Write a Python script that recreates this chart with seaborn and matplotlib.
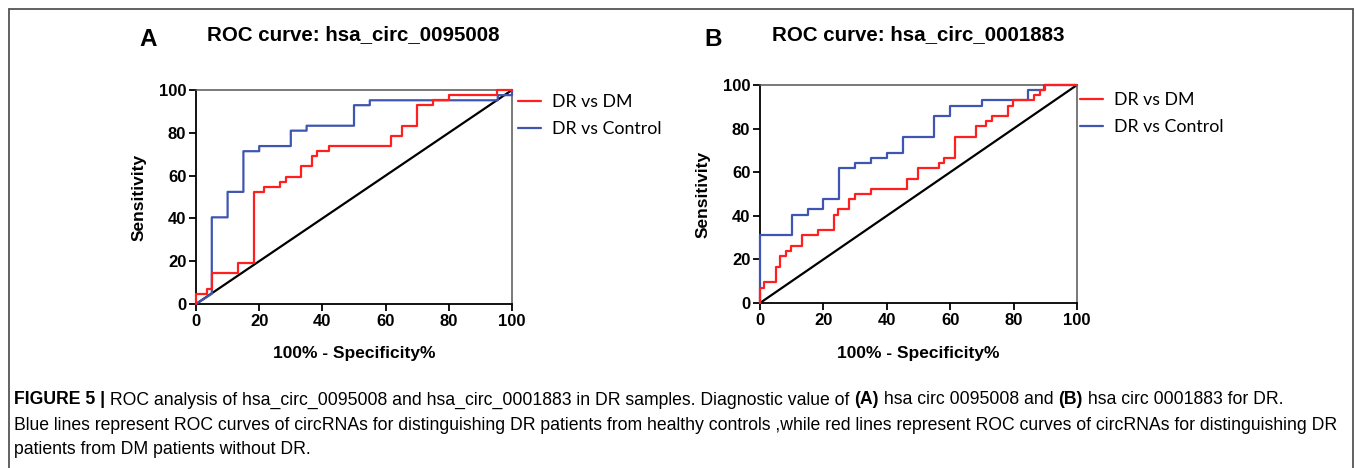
import matplotlib
matplotlib.use("Agg")
import matplotlib.pyplot as plt
from matplotlib.lines import Line2D
import seaborn as sns
import pandas as pd

# ---- data: ROC points (100% - Specificity%, Sensitivity%) ----
a_dm_fpr = [0, 0, 3.5, 3.5, 5.1, 5.1, 13.3, 13.3, 18.5, 18.5, 21.4, 21.4, 26.5, 26.5,
            28.4, 28.4, 33.2, 33.2, 36.7, 36.7, 38.3, 38.3, 42.0, 42.0, 61.7, 61.7,
            65.2, 65.2, 69.9, 69.9, 75.0, 75.0, 80.0, 80.0, 95.2, 95.2, 100]
a_dm_tpr = [0, 4.8, 4.8, 7.1, 7.1, 14.3, 14.3, 19.0, 19.0, 52.4, 52.4, 54.8, 54.8, 57.1,
            57.1, 59.5, 59.5, 64.3, 64.3, 69.0, 69.0, 71.4, 71.4, 73.8, 73.8, 78.6,
            78.6, 83.3, 83.3, 92.9, 92.9, 95.2, 95.2, 97.6, 97.6, 100, 100]
a_ctrl_fpr = [0, 5, 5, 10, 10, 15, 15, 20, 20, 30, 30, 35, 35, 50, 50, 55, 55, 95.5, 95.5, 100, 100]
a_ctrl_tpr = [0, 4.8, 40.5, 40.5, 52.4, 52.4, 71.4, 71.4, 73.8, 73.8, 81.0, 81.0, 83.3,
              83.3, 92.9, 92.9, 95.2, 95.2, 97.6, 97.6, 100]

b_dm_fpr = [0, 0, 1.4, 1.4, 5.1, 5.1, 6.3, 6.3, 8.2, 8.2, 9.7, 9.7, 13.2, 13.2, 18.4, 18.4,
            23.2, 23.2, 24.7, 24.7, 28.2, 28.2, 30.0, 30.0, 34.9, 34.9, 46.5, 46.5, 50.0,
            50.0, 56.6, 56.6, 58.2, 58.2, 61.6, 61.6, 68.2, 68.2, 71.4, 71.4, 73.2, 73.2,
            78.1, 78.1, 79.8, 79.8, 86.3, 86.3, 88.2, 88.2, 90.0, 90.0, 100]
b_dm_tpr = [0, 7.1, 7.1, 9.5, 9.5, 16.7, 16.7, 21.4, 21.4, 23.8, 23.8, 26.2, 26.2, 31.0,
            31.0, 33.3, 33.3, 40.5, 40.5, 42.9, 42.9, 47.6, 47.6, 50.0, 50.0, 52.4, 52.4,
            57.1, 57.1, 61.9, 61.9, 64.3, 64.3, 66.7, 66.7, 76.2, 76.2, 81.0, 81.0, 83.3,
            83.3, 85.7, 85.7, 90.5, 90.5, 92.9, 92.9, 95.2, 95.2, 97.6, 97.6, 100, 100]
b_ctrl_fpr = [0, 0, 10, 10, 15, 15, 20, 20, 25, 25, 30, 30, 35, 35, 40, 40, 45, 45, 55, 55,
              60, 60, 70, 70, 84.7, 84.7, 89.7, 89.7, 100]
b_ctrl_tpr = [0, 31.0, 31.0, 40.5, 40.5, 42.9, 42.9, 47.6, 47.6, 61.9, 61.9, 64.3, 64.3,
              66.7, 66.7, 69.0, 69.0, 76.2, 76.2, 85.7, 85.7, 90.5, 90.5, 92.9, 92.9,
              97.6, 97.6, 100, 100]

series_names = ["DR vs DM", "DR vs Control"]
panel_letters = ["A", "B"]
panel_titles = ["ROC curve: hsa_circ_0095008", "ROC curve: hsa_circ_0001883"]
ticks = [0, 20, 40, 60, 80, 100]
x_label = "100% - Specificity%"
y_label = "Sensitivity"

caption_bold = "FIGURE 5 |"
caption_l1 = [(" ROC analysis of hsa_circ_0095008 and hsa_circ_0001883 in DR samples. Diagnostic value of ", False),
              ("(A)", True), (" hsa circ 0095008 and ", False), ("(B)", True),
              (" hsa circ 0001883 for DR.", False)]
caption_l2 = "Blue lines represent ROC curves of circRNAs for distinguishing DR patients from healthy controls ,while red lines represent ROC curves of circRNAs for distinguishing DR"
caption_l3 = "patients from DM patients without DR."

# ---- styling ----
sns.set_theme(style="ticks")
plt.rcParams["font.family"] = ["Liberation Sans", "DejaVu Sans"]
plt.rcParams["text.color"] = "black"
plt.rcParams["axes.labelcolor"] = "black"
plt.rcParams["xtick.color"] = "black"
plt.rcParams["ytick.color"] = "black"

W, H = 1355, 468
fig = plt.figure(figsize=(W / 100, H / 100), dpi=100)

palette = {"DR vs DM": "#FF1F1F", "DR vs Control": "#3F56B0"}

def make_df(fpr_dm, tpr_dm, fpr_c, tpr_c):
    d1 = pd.DataFrame({"fpr": fpr_dm, "tpr": tpr_dm, "series": series_names[0]})
    d2 = pd.DataFrame({"fpr": fpr_c, "tpr": tpr_c, "series": series_names[1]})
    return pd.concat([d1, d2], ignore_index=True)

dfs = [make_df(a_dm_fpr, a_dm_tpr, a_ctrl_fpr, a_ctrl_tpr),
       make_df(b_dm_fpr, b_dm_tpr, b_ctrl_fpr, b_ctrl_tpr)]

# axes positions in pixels (left, right, top, bottom)
boxes = [(196, 512, 90, 304), (760, 1077, 85, 303)]
letter_pos = [(148, 40), (713, 40)]
title_pos = [(207, 35), (772, 35)]
legend_pos = [(518, 94), (1080, 92)]

for i, ax_box in enumerate(boxes):
    l, r, t, b = ax_box
    ax = fig.add_axes([l / W, 1 - b / H, (r - l) / W, (b - t) / H])
    df = dfs[i]
    # diagonal reference line
    ax.plot([0, 100], [0, 100], color="black", lw=1.6, zorder=2, clip_on=False)
    sns.lineplot(data=df, x="fpr", y="tpr", hue="series", hue_order=series_names[::-1],
                 palette=palette, sort=False, estimator=None, units="series",
                 lw=1.6, ax=ax, zorder=3, clip_on=False)
    ax.set_xlim(0, 100)
    ax.set_ylim(0, 100)
    ax.set_xticks(ticks)
    ax.set_yticks(ticks)
    ax.set_xticklabels([str(v) for v in ticks], fontsize=12, fontweight="bold")
    ax.set_yticklabels([str(v) for v in ticks], fontsize=12, fontweight="bold")
    ax.tick_params(direction="out", length=5, width=1.3, color="black",
                   labelcolor="black", pad=2)
    for s in ["left", "bottom"]:
        ax.spines[s].set_color("black")
        ax.spines[s].set_linewidth(1.3)
    for s in ["top", "right"]:
        ax.spines[s].set_visible(True)
        ax.spines[s].set_color("#555555")
        ax.spines[s].set_linewidth(1.1)
    ax.set_xlabel(x_label, fontsize=12.5, fontweight="bold", color="black")
    ax.set_ylabel(y_label, fontsize=12.5, fontweight="bold", color="black")
    ax.xaxis.set_label_coords(0.5, -0.195)
    ax.yaxis.set_label_coords(-0.155, 0.5)
    ax.set_facecolor("white")

    handles = [Line2D([], [], color=palette[n], lw=1.6) for n in series_names]
    lx, ly = legend_pos[i]
    leg = ax.legend(handles, series_names, loc="upper left",
                    bbox_to_anchor=(lx / W, 1 - ly / H), bbox_transform=fig.transFigure,
                    frameon=False, handlelength=1.3, handletextpad=0.6,
                    labelspacing=0.62, borderpad=0, borderaxespad=0,
                    prop={"family": ["Lato", "DejaVu Sans"], "size": 12.8})
    for txt in leg.get_texts():
        txt.set_color("black")

    fx, fy = letter_pos[i]
    fig.text(fx / W, 1 - fy / H, panel_letters[i], fontsize=17.5, fontweight="bold",
             ha="center", va="center", color="black")
    tx, ty = title_pos[i]
    fig.text(tx / W, 1 - ty / H, panel_titles[i], fontsize=14.8, fontweight="bold",
             ha="left", va="center", color="black")

# ---- caption ----
fig.canvas.draw()
renderer = fig.canvas.get_renderer()
cap_size = 12.7
x0 = 14
y1 = 400
pieces = [(caption_bold, True)] + caption_l1
x = x0
for txt, bold in pieces:
    t = fig.text(x / W, 1 - y1 / H, txt, fontsize=cap_size, color="black",
                 fontweight="bold" if bold else "normal", ha="left", va="center")
    bb = t.get_window_extent(renderer)
    x += bb.width
fig.text(x0 / W, 1 - 425 / H, caption_l2, fontsize=cap_size, ha="left", va="center", color="black")
fig.text(x0 / W, 1 - 449 / H, caption_l3, fontsize=cap_size, ha="left", va="center", color="black")

# ---- outer frame ----
frame_kw = dict(color="#555555", lw=1.3, transform=fig.transFigure)
fig.add_artist(Line2D([9 / W, 1353 / W], [1 - 9 / H, 1 - 9 / H], **frame_kw))
fig.add_artist(Line2D([9 / W, 9 / W], [1 - 9 / H, 0], **frame_kw))
fig.add_artist(Line2D([1353 / W, 1353 / W], [1 - 9 / H, 0], **frame_kw))

fig.savefig("out.png", dpi=100, facecolor="white")
